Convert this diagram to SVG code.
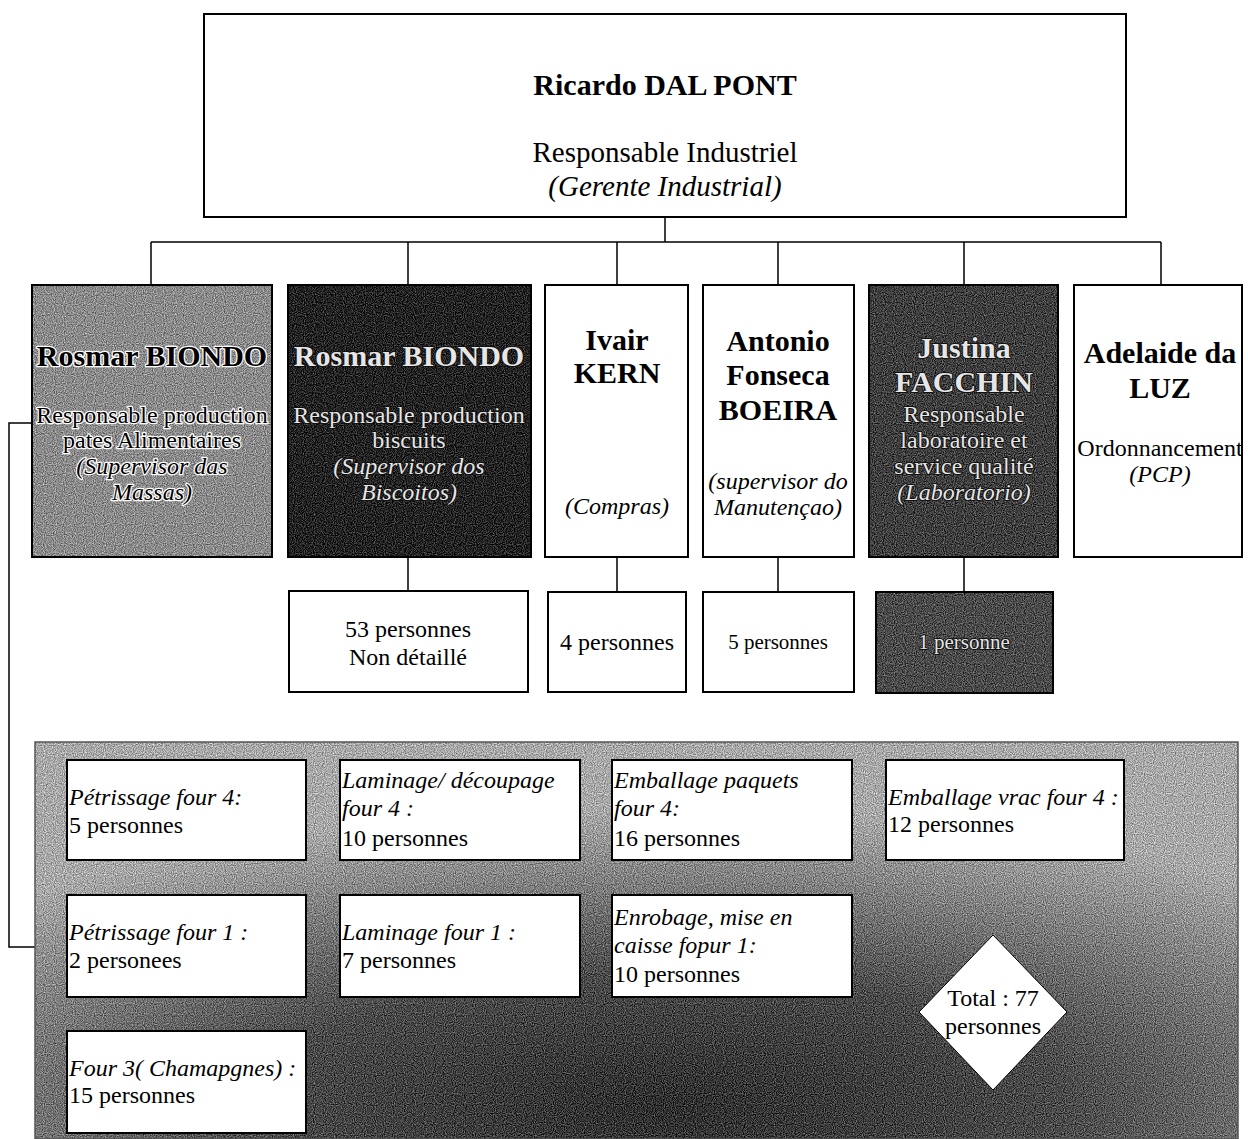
<svg xmlns="http://www.w3.org/2000/svg" width="1248" height="1139" viewBox="0 0 1248 1139">
<defs>
<style>
text{font-family:"Liberation Serif","Times New Roman",serif;fill:#000}
.nm{font-size:30px;font-weight:bold;text-anchor:middle}
.big{font-size:29px;text-anchor:middle}
.t{font-size:24px;text-anchor:middle}
.s{font-size:21px;text-anchor:middle}
.p{font-size:24px}
.i{font-style:italic}
.box{fill:#fff;stroke:#000;stroke-width:2}
.emb{fill:#000;stroke:#fff;stroke-width:2.5;paint-order:stroke;stroke-linejoin:round}
.lt{fill:#e6e6e6;stroke:#111;stroke-width:2;paint-order:stroke;stroke-linejoin:round}
.cn{fill:none;stroke:#000;stroke-width:1.5}
.edge{fill:none;stroke:#000;stroke-width:2}
</style>
<filter id="grain" x="0" y="0" width="1" height="1" color-interpolation-filters="sRGB">
<feTurbulence type="fractalNoise" baseFrequency="0.9" numOctaves="1" seed="4" result="t"/>
<feColorMatrix in="t" type="matrix" values="1 0 0 0 0 1 0 0 0 0 1 0 0 0 0 0 0 0 0 1" result="g"/>
<feComposite in="SourceGraphic" in2="g" operator="arithmetic" k1="0" k2="1" k3="0.9" k4="-0.45" result="b"/>
<feComposite in="b" in2="SourceGraphic" operator="in"/>
</filter>
<radialGradient id="pg" cx="0.52" cy="0.92" r="0.75">
<stop offset="0" stop-color="#2e2e2e"/>
<stop offset="0.45" stop-color="#4a4a4a"/>
<stop offset="1" stop-color="#a8a8a8"/>
</radialGradient>
</defs>

<g id="connectors">
<path class="cn" d="M665 217V242M151 242H1161M151 242V285M408 242V285M617 242V285M778 242V285M964 242V285M1161 242V285"/>
<path class="cn" d="M408 557V591M617 557V592M778 557V592M964 557V592"/>
<path class="cn" d="M32 423H9V947H67"/>
</g>

<g id="n-top">
<rect class="box" x="204" y="14" width="922" height="203"/>
<text class="nm" x="665" y="95">Ricardo DAL PONT</text>
<text class="big" x="665" y="162">Responsable Industriel</text>
<text class="big i" x="665" y="196">(Gerente Industrial)</text>
</g>

<g id="n-rosmar1">
<rect x="32" y="285" width="240" height="272" fill="#8a8a8a" filter="url(#grain)"/>
<rect class="edge" x="32" y="285" width="240" height="272"/>
<text class="nm emb" x="152" y="366">Rosmar BIONDO</text>
<text class="t emb" x="152" y="423">Responsable production</text>
<text class="t emb" x="152" y="448">pates Alimentaires</text>
<text class="t i emb" x="152" y="474">(Supervisor das</text>
<text class="t i emb" x="152" y="500">Massas)</text>
</g>

<g id="n-rosmar2">
<rect x="288" y="285" width="243" height="272" fill="#222" filter="url(#grain)"/>
<rect class="edge" x="288" y="285" width="243" height="272"/>
<text class="nm lt" x="409" y="366">Rosmar BIONDO</text>
<text class="t lt" x="409" y="423">Responsable production</text>
<text class="t lt" x="409" y="448">biscuits</text>
<text class="t i lt" x="409" y="474">(Supervisor dos</text>
<text class="t i lt" x="409" y="500">Biscoitos)</text>
</g>

<g id="n-ivair">
<rect class="box" x="545" y="285" width="143" height="272"/>
<text class="nm" x="617" y="350">Ivair</text>
<text class="nm" x="617" y="383">KERN</text>
<text class="t i" x="617" y="514">(Compras)</text>
</g>

<g id="n-antonio">
<rect class="box" x="703" y="285" width="151" height="272"/>
<text class="nm" x="778" y="351">Antonio</text>
<text class="nm" x="778" y="385">Fonseca</text>
<text class="nm" x="778" y="420">BOEIRA</text>
<text class="t i" x="778" y="489">(supervisor do</text>
<text class="t i" x="778" y="515">Manutençao)</text>
</g>

<g id="n-justina">
<rect x="869" y="285" width="189" height="272" fill="#3e3e3e" filter="url(#grain)"/>
<rect class="edge" x="869" y="285" width="189" height="272"/>
<text class="nm lt" x="964" y="358">Justina</text>
<text class="nm lt" x="964" y="392">FACCHIN</text>
<text class="t lt" x="964" y="422">Responsable</text>
<text class="t lt" x="964" y="448">laboratoire et</text>
<text class="t lt" x="964" y="474">service qualité</text>
<text class="t i lt" x="964" y="500">(Laboratorio)</text>
</g>

<g id="n-adelaide">
<rect class="box" x="1074" y="285" width="168" height="272"/>
<text class="nm" x="1160" y="363">Adelaide da</text>
<text class="nm" x="1160" y="398">LUZ</text>
<text class="t" x="1160" y="456">Ordonnancement</text>
<text class="t i" x="1160" y="482">(PCP)</text>
</g>

<g id="n-53">
<rect class="box" x="289" y="591" width="239" height="101"/>
<text class="t" x="408" y="637">53 personnes</text>
<text class="t" x="408" y="665">Non détaillé</text>
</g>
<g id="n-4">
<rect class="box" x="548" y="592" width="138" height="100"/>
<text class="t" x="617" y="650">4 personnes</text>
</g>
<g id="n-5">
<rect class="box" x="703" y="592" width="151" height="100"/>
<text class="s" x="778" y="649">5 personnes</text>
</g>
<g id="n-1">
<rect x="876" y="592" width="177" height="101" fill="#4a4a4a" filter="url(#grain)"/>
<rect class="edge" x="876" y="592" width="177" height="101"/>
<text class="s lt" x="964" y="649">1 personne</text>
</g>

<g id="n-panel">
<rect x="35" y="742" width="1203" height="397" fill="url(#pg)" filter="url(#grain)"/>
<rect x="35" y="742" width="1203" height="397" fill="none" stroke="#555" stroke-width="1.5"/>
</g>

<g id="n-pet4">
<rect class="box" x="67" y="760" width="239" height="100"/>
<text class="p i" x="69" y="805">Pétrissage four 4:</text>
<text class="p" x="69" y="833">5 personnes</text>
</g>
<g id="n-lam4">
<rect class="box" x="340" y="760" width="240" height="100"/>
<text class="p i" x="342" y="788">Laminage/ découpage</text>
<text class="p i" x="342" y="816">four 4 :</text>
<text class="p" x="342" y="846">10 personnes</text>
</g>
<g id="n-emb4">
<rect class="box" x="612" y="760" width="240" height="100"/>
<text class="p i" x="614" y="788">Emballage paquets</text>
<text class="p i" x="614" y="816">four 4:</text>
<text class="p" x="614" y="846">16 personnes</text>
</g>
<g id="n-vrac4">
<rect class="box" x="886" y="760" width="238" height="100"/>
<text class="p i" x="888" y="805">Emballage vrac four 4 :</text>
<text class="p" x="888" y="832">12 personnes</text>
</g>
<g id="n-pet1">
<rect class="box" x="67" y="895" width="239" height="102"/>
<text class="p i" x="69" y="940">Pétrissage four 1 :</text>
<text class="p" x="69" y="968">2 personees</text>
</g>
<g id="n-lam1">
<rect class="box" x="340" y="895" width="240" height="102"/>
<text class="p i" x="342" y="940">Laminage four 1 :</text>
<text class="p" x="342" y="968">7 personnes</text>
</g>
<g id="n-enrob">
<rect class="box" x="612" y="895" width="240" height="102"/>
<text class="p i" x="614" y="925">Enrobage, mise en</text>
<text class="p i" x="614" y="953">caisse fopur 1:</text>
<text class="p" x="614" y="982">10 personnes</text>
</g>
<g id="n-four3">
<rect class="box" x="67" y="1031" width="239" height="102"/>
<text class="p i" x="69" y="1076">Four 3( Chamapgnes) :</text>
<text class="p" x="69" y="1103">15 personnes</text>
</g>
<g id="n-total">
<polygon points="993,935 1067,1012 993,1090 919,1012" fill="#fff" stroke="#000" stroke-width="1"/>
<text class="t" x="993" y="1006">Total : 77</text>
<text class="t" x="993" y="1034">personnes</text>
</g>
</svg>
